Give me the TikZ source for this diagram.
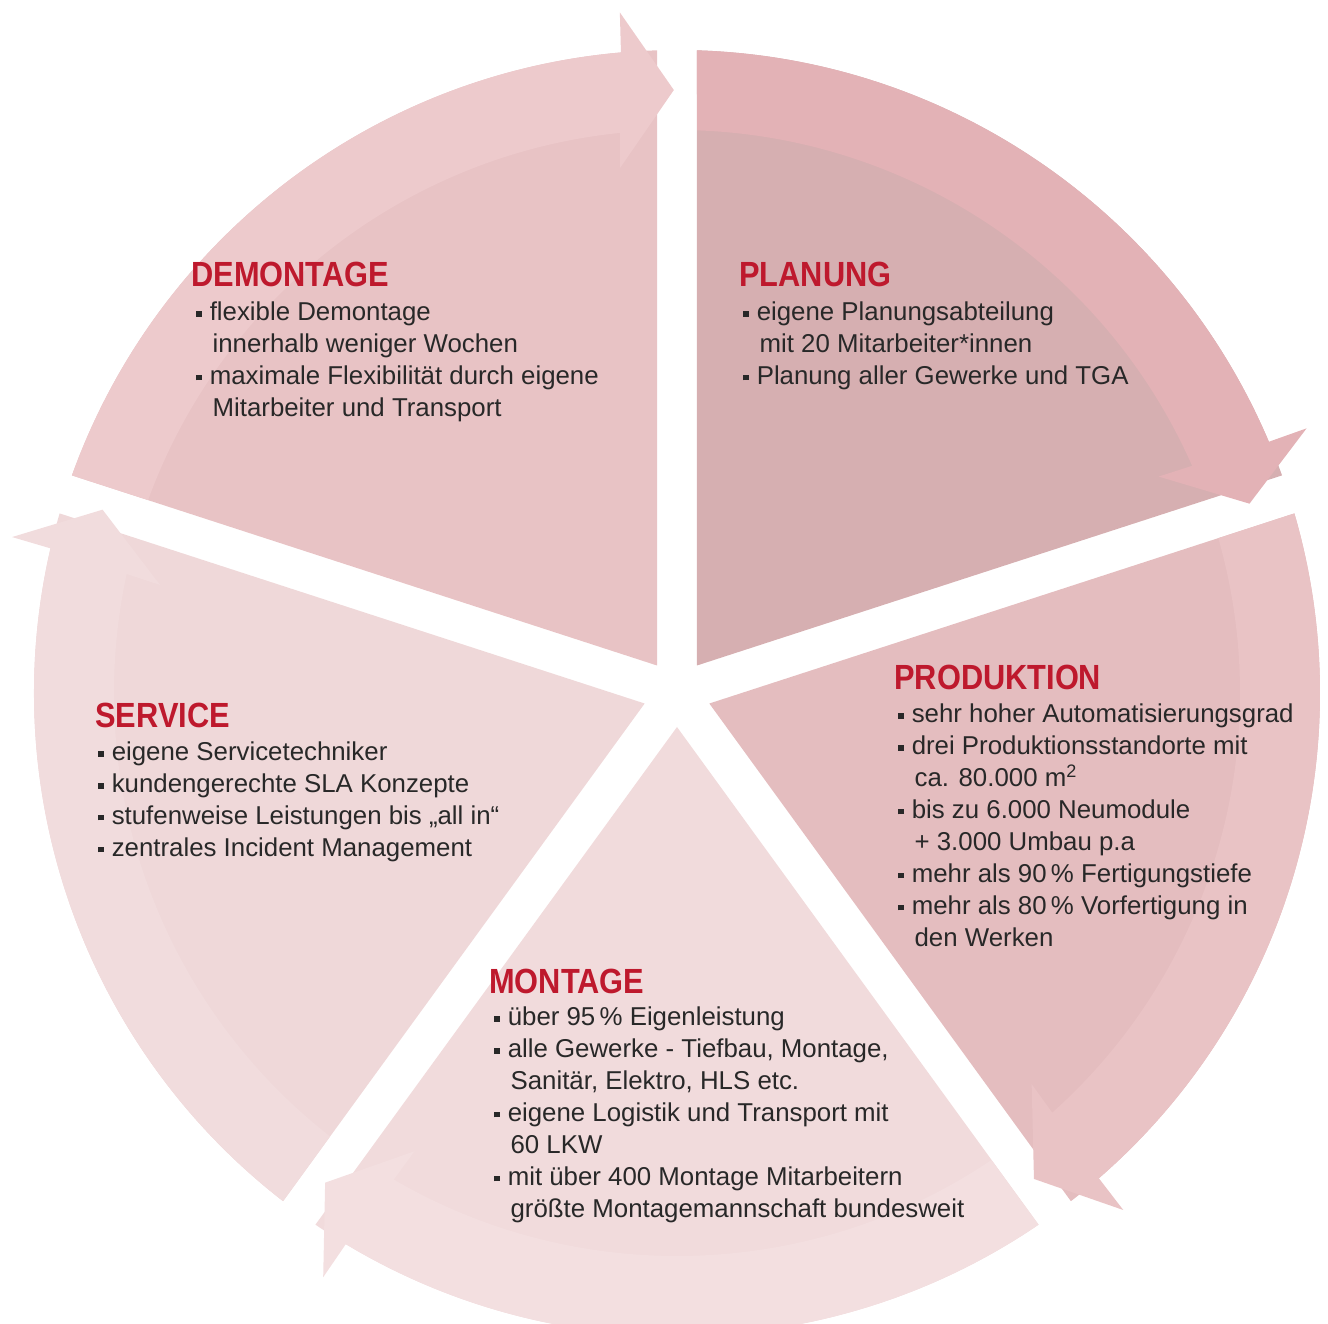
\documentclass[tikz,border=0pt]{standalone}
\usepackage{fontspec}
\setmainfont{Liberation Sans}
\newfontfamily\titlefont[FakeStretch=0.88]{Liberation Sans Bold}
\usepackage{xcolor}
\usepackage{tikz}
\definecolor{title}{HTML}{BE192D}
\definecolor{body}{HTML}{282828}
\definecolor{planin}{HTML}{D6AFB1}
\definecolor{planband}{HTML}{E3B2B6}
\definecolor{prodin}{HTML}{E4BDBF}
\definecolor{prodband}{HTML}{E9C3C5}
\definecolor{montin}{HTML}{F1DBDC}
\definecolor{montband}{HTML}{F3DFE0}
\definecolor{servin}{HTML}{EFD8D9}
\definecolor{servband}{HTML}{F1DCDD}
\definecolor{demin}{HTML}{E8C3C5}
\definecolor{demband}{HTML}{EDCACC}
\tikzset{
  head/.style={text=title, font=\titlefont\fontsize{19.9}{24}\selectfont, anchor=base west, inner sep=0pt},
  items/.style={text=body, font=\fontsize{14.7}{18.2}\selectfont, align=left, anchor=north west,
    inner sep=0pt, execute at begin node=\strut},
}
\newcommand{\sqbul}{\makebox[0.52em][l]{\rule[0.16em]{0.2em}{0.2em}}}
\newcommand{\indl}{\hspace*{0.63em}}

\begin{document}
\begin{tikzpicture}[x=0.02cm, y=0.02cm]
  \def\ro{643}
  \def\ri{563}
  \useasboundingbox (-677,-631) rectangle (651,693);

  % pie slices
  \fill[planin] (54:34) -- (88.22:\ro) arc[start angle=88.22, end angle=19.78, radius=\ro] -- cycle;
  \fill[prodin] (-18:34) -- (16.22:\ro) arc[start angle=16.22, end angle=-52.22, radius=\ro] -- cycle;
  \fill[montin] (-90:34) -- (-55.78:\ro) arc[start angle=-55.78, end angle=-124.22, radius=\ro] -- cycle;
  \fill[servin] (-162:34) -- (-127.78:\ro) arc[start angle=-127.78, end angle=-196.22, radius=\ro] -- cycle;
  \fill[demin] (126:34) -- (160.22:\ro) arc[start angle=160.22, end angle=91.78, radius=\ro] -- cycle;

  % arrow bands
  \fill[planband] (87.96:\ri) -- (88.22:\ro) arc[start angle=88.22, end angle=23, radius=\ro]
    -- (22.8:683) -- (18.3:603) -- (24.2:528) -- (23.8:\ri)
    arc[start angle=23.8, end angle=87.96, radius=\ri] -- cycle;
  \fill[prodband] (15.96:\ri) -- (16.22:\ro) arc[start angle=16.22, end angle=-49, radius=\ro]
    -- (-49.2:683) -- (-53.7:603) -- (-47.8:528) -- (-48.2:\ri)
    arc[start angle=-48.2, end angle=15.96, radius=\ri] -- cycle;
  \fill[montband] (-56.04:\ri) -- (-55.78:\ro) arc[start angle=-55.78, end angle=-121, radius=\ro]
    -- (-121.2:683) -- (-125.7:603) -- (-119.8:528) -- (-120.2:\ri)
    arc[start angle=-120.2, end angle=-56.04, radius=\ri] -- cycle;
  \fill[servband] (-128.04:\ri) -- (-127.78:\ro) arc[start angle=-127.78, end angle=-193, radius=\ro]
    -- (-193.2:683) -- (-197.7:603) -- (-191.8:528) -- (-192.2:\ri)
    arc[start angle=-192.2, end angle=-128.04, radius=\ri] -- cycle;
  \fill[demband] (159.96:\ri) -- (160.22:\ro) arc[start angle=160.22, end angle=95, radius=\ro]
    -- (94.8:683) -- (90.3:603) -- (96.2:528) -- (95.8:\ri)
    arc[start angle=95.8, end angle=159.96, radius=\ri] -- cycle;

  % texts
  \node[head] (demhead) at (-486,406) {DEMONTAGE};
  \node[items] (demtext) at (-481,391.4) {\sqbul flexible Demontage\\
    \indl innerhalb weniger Wochen\\
    \sqbul maximale Flexibilität durch eigene\\
    \indl Mitarbeiter und Transport};

  \node[head] (planhead) at (62,406) {PLANUNG};
  \node[items] (plantext) at (66,391.4) {\sqbul eigene Planungsabteilung\\
    \indl mit 20 Mitarbeiter*innen\\
    \sqbul Planung aller Gewerke und TGA};

  \node[head] (prodhead) at (217,3) {PRODUKTION};
  \node[items] (prodtext) at (221,-10.6) {\sqbul sehr hoher Automatisierungsgrad\\
    \sqbul drei Produktionsstandorte mit\\
    \indl ca. 80.000 m\textsuperscript{2}\\
    \sqbul bis zu 6.000 Neumodule\\
    \indl + 3.000 Umbau p.a\\
    \sqbul mehr als 90\,\% Fertigungstiefe\\
    \sqbul mehr als 80\,\% Vorfertigung in\\
    \indl den Werken};

  \node[head] (monthead) at (-188,-300) {MONTAGE};
  \node[items] (monttext) at (-183,-313.6) {\sqbul über 95\,\% Eigenleistung\\
    \sqbul alle Gewerke - Tiefbau, Montage,\\
    \indl Sanitär, Elektro, HLS etc.\\
    \sqbul eigene Logistik und Transport mit\\
    \indl 60 LKW\\
    \sqbul mit über 400 Montage Mitarbeitern\\
    \indl größte Montagemannschaft bundesweit};

  \node[head] (servhead) at (-582,-35) {SERVICE};
  \node[items] (servtext) at (-579,-48.6) {\sqbul eigene Servicetechniker\\
    \sqbul kundengerechte SLA Konzepte\\
    \sqbul stufenweise Leistungen bis „all in“\\
    \sqbul zentrales Incident Management};
\end{tikzpicture}
\end{document}
